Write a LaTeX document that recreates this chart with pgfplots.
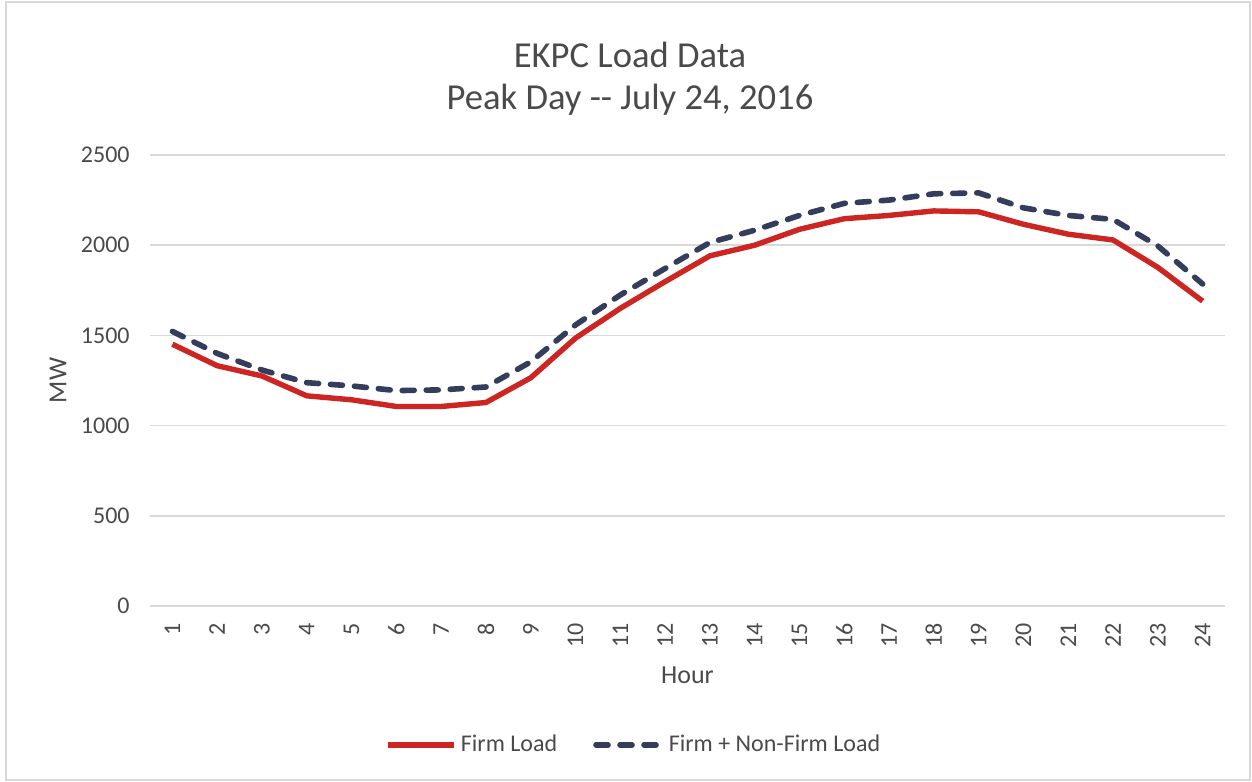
\documentclass[border=0pt]{standalone}
\usepackage{pgfplots}
\pgfplotsset{compat=1.18}
\usepackage{fontspec}
\setmainfont{Carlito}
\definecolor{firmred}{HTML}{CC2522}
\definecolor{navy}{HTML}{343E5C}
\definecolor{txt}{HTML}{4A4A4A}
\definecolor{gridc}{HTML}{D9D9D9}
\begin{document}
\begin{tikzpicture}
\begin{axis}[
  at={(75bp,88bp)}, anchor=south west,
  scale only axis, width=537.5bp, height=225.5bp,
  xmin=0.5, xmax=24.5, ymin=0, ymax=2500,
  xtick={1,...,24}, ytick={0,500,...,2500},
  axis line style={draw=none},
  major tick length=0pt, tick style={draw=none},
  ymajorgrids, grid style={draw=gridc, line width=0.75bp},
  /pgf/number format/assume math mode=true,
  /pgf/number format/1000 sep={},
  ticklabel style={font=\fontsize{12bp}{14bp}\selectfont, text=txt},
  yticklabel style={anchor=east, inner sep=0pt, xshift=-10bp},
  xticklabel style={yshift=-8.5bp, rotate=90, anchor=east, inner sep=0pt},
  xlabel={Hour}, ylabel={MW},
  label style={font=\fontsize{13bp}{15bp}\selectfont, text=txt},
  xlabel style={at={(axis description cs:0.5,-0.153)}, anchor=center},
  ylabel style={at={(axis description cs:-0.0856,0.5)}, anchor=center},
  legend columns=2,
  legend style={at={(0.451,-0.308)}, anchor=center, draw=none, fill=none,
    font=\fontsize{12bp}{14bp}\selectfont, text=txt,
    /tikz/every even column/.append style={column sep=16bp},
    nodes={inner sep=2bp}},
  legend image code/.code={\draw[#1] (0bp,0bp) -- (33bp,0bp);},
]
\addplot[firmred, line width=2.7bp, line join=round] coordinates {
(1,1451) (2,1332) (3,1275) (4,1165) (5,1143) (6,1106) (7,1106) (8,1128)
(9,1265) (10,1485) (11,1650) (12,1798) (13,1941) (14,2000) (15,2088) (16,2147)
(17,2165) (18,2190) (19,2185) (20,2116) (21,2061) (22,2029) (23,1877) (24,1690)};
\addlegendentry{Firm Load}
\addplot[navy, line width=2.8bp, line cap=round, line join=round,
  dash pattern=on 6bp off 6bp] coordinates {
(1,1522) (2,1400) (3,1308) (4,1238) (5,1220) (6,1194) (7,1198) (8,1214)
(9,1353) (10,1558) (11,1724) (12,1871) (13,2015) (14,2083) (15,2165) (16,2232)
(17,2250) (18,2285) (19,2290) (20,2207) (21,2165) (22,2143) (23,1996) (24,1785)};
\addlegendentry{Firm + Non-Firm Load}
\end{axis}
\node[anchor=base, font=\fontsize{18.3bp}{21bp}\selectfont, text=txt] at (315bp,357bp) {EKPC Load Data};
\node[anchor=base, font=\fontsize{18.3bp}{21bp}\selectfont, text=txt] at (315bp,336bp) {Peak Day {-}{-} July 24, 2016};
\draw[gridc, line width=0.6bp] (3bp,1bp) rectangle (625bp,390bp);
\pgfresetboundingbox
\path[use as bounding box] (0,0) rectangle (626bp,391bp);
\end{tikzpicture}
\end{document}
